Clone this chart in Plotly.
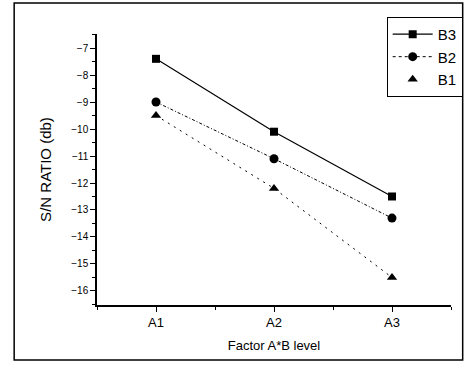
import plotly.graph_objects as go

levels = [1, 2, 3]
level_labels = ["A1", "A2", "A3"]
b3 = [-7.4, -10.1, -12.5]
b2 = [-9.0, -11.1, -13.3]
b1 = [-9.5, -12.2, -15.5]

fig = go.Figure()
fig.add_trace(go.Scatter(x=levels, y=b3, mode="lines+markers", name="B3", showlegend=False,
                         line=dict(color="black", width=1.2),
                         marker=dict(symbol="square", size=8, color="black")))
fig.add_trace(go.Scatter(x=levels, y=b2, mode="lines+markers", name="B2", showlegend=False,
                         line=dict(color="black", width=1, dash="3px,2px,1px,2px"),
                         marker=dict(symbol="circle", size=9, color="black")))
fig.add_trace(go.Scatter(x=levels, y=b1, mode="lines+markers", name="B1", showlegend=False,
                         line=dict(color="black", width=1, dash="2px,5px"),
                         marker=dict(symbol="triangle-up", size=9, color="black")))
# legend entries
fig.add_trace(go.Scatter(x=[None], y=[None], mode="lines+markers", name="B3",
                         line=dict(color="black", width=1.2),
                         marker=dict(symbol="square", size=8, color="black")))
fig.add_trace(go.Scatter(x=[None], y=[None], mode="lines+markers", name="B2",
                         line=dict(color="black", width=1, dash="dot"),
                         marker=dict(symbol="circle", size=9, color="black")))
fig.add_trace(go.Scatter(x=[None], y=[None], mode="markers", name="B1",
                         marker=dict(symbol="triangle-up", size=9, color="black")))

fig.update_layout(
    width=475, height=365,
    margin=dict(l=97, r=15, t=34, b=60),
    paper_bgcolor="white", plot_bgcolor="white",
    font=dict(family="Liberation Sans, Arial", color="black", size=11),
    showlegend=True,
    legend=dict(x=1.033, y=1.063, xanchor="right", yanchor="top",
                bordercolor="black", borderwidth=1, bgcolor="white",
                font=dict(size=15), traceorder="normal",
                itemwidth=40, tracegroupgap=0),
    xaxis=dict(range=[0.5, 3.5], tickmode="array", tickvals=levels, ticktext=level_labels,
               showline=True, linecolor="black", linewidth=1.5, ticks="outside", ticklen=5,
               tickcolor="black", showgrid=False, zeroline=False, tickfont=dict(size=13),
               minor=dict(tickvals=[0.5, 1.5, 2.5, 3.5], ticks="outside", ticklen=3, tickcolor="black"),
               title=dict(text="Factor A*B level", font=dict(size=13), standoff=12)),
    yaxis=dict(range=[-16.52, -6.48], dtick=1, tick0=-16,
               showline=True, linecolor="black", linewidth=1.5, ticks="outside", ticklen=5,
               tickcolor="black", showgrid=False, zeroline=False, tickfont=dict(size=10),
               minor=dict(dtick=0.5, ticks="outside", ticklen=3, tickcolor="black"),
               title=dict(text="S/N RATIO (db)", font=dict(size=15), standoff=16)),
    shapes=[dict(type="rect", xref="paper", yref="paper", x0=-0.234, x1=1.033, y0=-0.203, y1=1.114,
                 line=dict(color="black", width=1.5), fillcolor="rgba(0,0,0,0)", layer="below")],
)

fig.write_html("out.html")
